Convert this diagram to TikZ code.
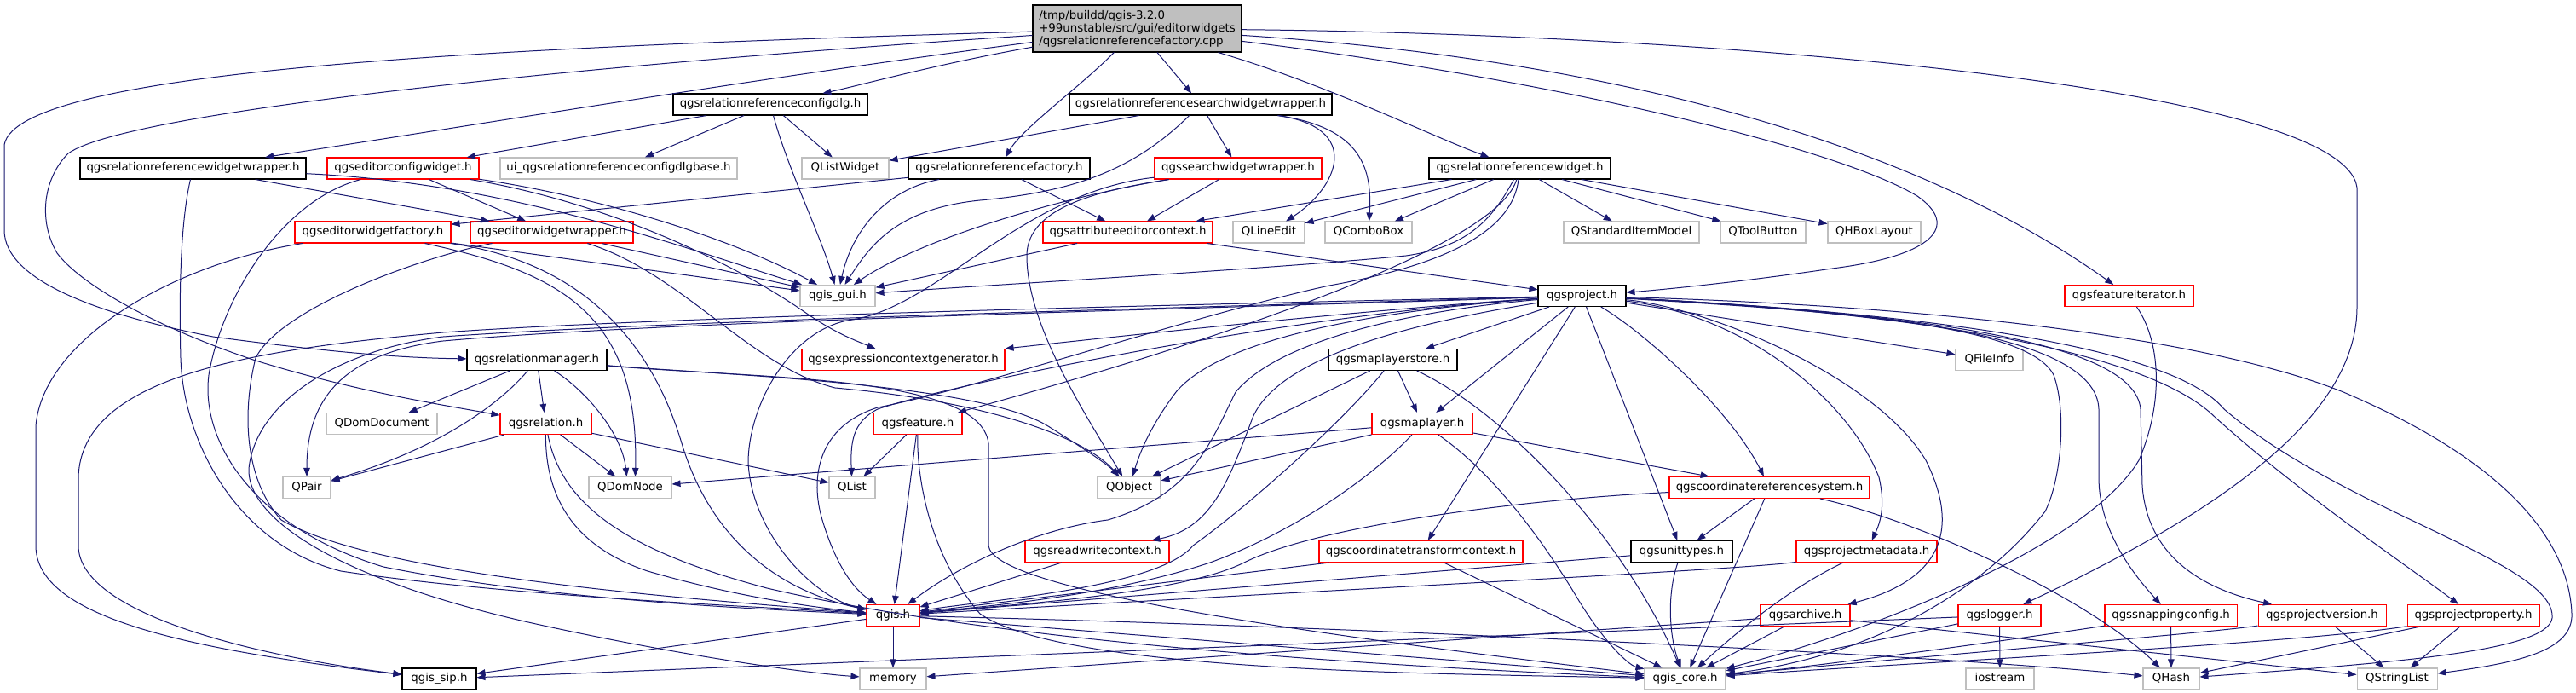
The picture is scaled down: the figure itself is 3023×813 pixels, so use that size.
\documentclass[tikz,border=0pt]{standalone}
\usepackage{fontspec}
\newfontfamily\djv{DejaVu Sans}
\usetikzlibrary{arrows.meta}
\definecolor{navy}{HTML}{191970}
\definecolor{gbord}{HTML}{BFBFBF}
\definecolor{rootfill}{HTML}{BFBFBF}
\begin{document}
\begin{tikzpicture}[x=0.75pt,y=-0.75pt,
  nb/.style={rectangle, draw, line width=0.8pt, inner sep=0pt, minimum height=18.75pt,
             font=\djv\fontsize{10pt}{11.25pt}\selectfont, text height=7.4pt, text depth=2.3pt, fill=white},
  blk/.style={nb, draw=black},
  rdn/.style={nb, draw=red},
  gry/.style={nb, draw=gbord},
  wd/.style={minimum width=#1*0.75pt},
  e/.style={draw=navy, line width=0.75pt, -{Triangle[length=7.5pt,width=5.6pt]}}]
\fill[white] (0,0) rectangle (3023,813);
\useasboundingbox (0,0) rectangle (3023,813);

% ---------------- nodes ----------------
\node[rectangle, draw=black, line width=0.8pt, fill=rootfill, inner sep=0pt, minimum width=245*0.75pt,
      minimum height=55*0.75pt, align=left, font=\djv\fontsize{10pt}{11.25pt}\selectfont] (root) at (1334.5,33.5)
      {/tmp/buildd/qgis-3.2.0\\+99unstable/src/gui/editorwidgets\\/qgsrelationreferencefactory.cpp};

\node[blk, wd=228] (cfgdlg) at (904,122.5) {qgsrelationreferenceconfigdlg.h};
\node[blk, wd=308] (srchwrap) at (1409,122.5) {qgsrelationreferencesearchwidgetwrapper.h};

\node[blk, wd=265] (rrww) at (226.5,197.5) {qgsrelationreferencewidgetwrapper.h};
\node[rdn, wd=178] (ecw) at (473,197.5) {qgseditorconfigwidget.h};
\node[gry, wd=278] (uibase) at (726,197.5) {ui\_qgsrelationreferenceconfigdlgbase.h};
\node[gry, wd=102] (qlistwidget) at (992,197.5) {QListWidget};
\node[blk, wd=213] (rrfac) at (1172.5,197.5) {qgsrelationreferencefactory.h};
\node[rdn, wd=196] (sww) at (1453,197.5) {qgssearchwidgetwrapper.h};
\node[blk, wd=213] (rrw) at (1783.5,197.5) {qgsrelationreferencewidget.h};

\node[rdn, wd=183] (ewf) at (437.5,272.5) {qgseditorwidgetfactory.h};
\node[rdn, wd=191] (eww) at (647.5,272.5) {qgseditorwidgetwrapper.h};
\node[rdn, wd=199] (aec) at (1323.5,272.5) {qgsattributeeditorcontext.h};
\node[gry, wd=84] (qlineedit) at (1489,272.5) {QLineEdit};
\node[gry, wd=102] (qcombobox) at (1606,272.5) {QComboBox};
\node[gry, wd=159] (qsim) at (1914.5,272.5) {QStandardItemModel};
\node[gry, wd=100] (qtoolbutton) at (2069,272.5) {QToolButton};
\node[gry, wd=109] (qhbox) at (2199.5,272.5) {QHBoxLayout};

\node[gry, wd=88] (gui) at (983,347) {qgis\_gui.h};
\node[blk, wd=103] (proj) at (1856.5,347) {qgsproject.h};
\node[rdn, wd=151] (fiter) at (2498.5,347) {qgsfeatureiterator.h};

\node[blk, wd=164] (relman) at (630,422) {qgsrelationmanager.h};
\node[rdn, wd=238] (ecg) at (1060,422) {qgsexpressioncontextgenerator.h};
\node[blk, wd=151] (mlstore) at (1634.5,422) {qgsmaplayerstore.h};
\node[gry, wd=79] (qfileinfo) at (2334.5,422) {QFileInfo};

\node[gry, wd=130] (qdomdoc) at (448,497) {QDomDocument};
\node[rdn, wd=107] (relation) at (640.5,497) {qgsrelation.h};
\node[rdn, wd=104] (feature) at (1077,497) {qgsfeature.h};
\node[rdn, wd=118] (maplayer) at (1669,497) {qgsmaplayer.h};

\node[gry, wd=56] (qpair) at (360,572) {QPair};
\node[gry, wd=97] (qdomnode) at (739.5,572) {QDomNode};
\node[gry, wd=54] (qlist) at (1000,572) {QList};
\node[gry, wd=74] (qobject) at (1325,572) {QObject};
\node[rdn, wd=235] (crs) at (2076.5,572) {qgscoordinatereferencesystem.h};

\node[rdn, wd=169] (rwctx) at (1287.5,647) {qgsreadwritecontext.h};
\node[rdn, wd=239] (ctctx) at (1667.5,647) {qgscoordinatetransformcontext.h};
\node[blk, wd=119] (unittypes) at (1973.5,647) {qgsunittypes.h};
\node[rdn, wd=165] (projmeta) at (2190.5,647) {qgsprojectmetadata.h};

\node[rdn, wd=62] (qgis) at (1048,722) {qgis.h};
\node[rdn, wd=105] (archive) at (2118.5,722) {qgsarchive.h};
\node[rdn, wd=97] (logger) at (2346.5,722) {qgslogger.h};
\node[rdn, wd=155] (snapcfg) at (2547.5,722) {qgssnappingconfig.h};
\node[rdn, wd=150] (projver) at (2725,722) {qgsprojectversion.h};
\node[rdn, wd=155] (projprop) at (2902.5,722) {qgsprojectproperty.h};

\node[blk, wd=87] (sip) at (515.5,796.5) {qgis\_sip.h};
\node[gry, wd=78] (memory) at (1048,796.5) {memory};
\node[gry, wd=95] (core) at (1977.5,796.5) {qgis\_core.h};
\node[gry, wd=80] (iostream) at (2347,796.5) {iostream};
\node[gry, wd=66] (qhash) at (2548,796.5) {QHash};
\node[gry, wd=94] (qstringlist) at (2813,796.5) {QStringList};

% ---------------- edges ----------------
% root
\draw[e] (root) .. controls (1100,75) and (1010,100) .. (cfgdlg);
\draw[e] (root) .. controls (900,90) and (600,140) .. (rrww);
\draw[e] (root) .. controls (600,55) and (20,80) .. (5,170) -- (5,270) .. controls (5,330) and (120,370) .. (250,395) .. controls (400,415) and (480,420) .. (relman);
\draw[e] (root) .. controls (700,75) and (150,130) .. (80,180) .. controls (50,210) and (45,260) .. (67,297) .. controls (100,340) and (200,390) .. (300,423) .. controls (420,460) and (520,475) .. (relation);
\draw[e] (root) .. controls (1270,100) and (1200,150) .. (rrfac);
\draw[e] (root) -- (srchwrap);
\draw[e] (root) .. controls (1560,100) and (1680,160) .. (rrw);
\draw[e] (root) .. controls (1800,90) and (2150,170) .. (2250,230) .. controls (2300,265) and (2270,300) .. (2150,315) .. controls (2050,330) and (1950,340) .. (proj);
\draw[e] (root) .. controls (1900,70) and (2250,170) .. (fiter);
\draw[e] (root) .. controls (2000,40) and (2750,100) .. (2766,220) -- (2766,360) .. controls (2766,470) and (2650,580) .. (logger);

% cfgdlg
\draw[e] (cfgdlg) -- (ecw);
\draw[e] (cfgdlg) -- (uibase);
\draw[e] (cfgdlg) -- (qlistwidget);
\draw[e] (cfgdlg) .. controls (925,200) and (965,280) .. (gui);

% srchwrap
\draw[e] (srchwrap) -- (qlistwidget);
\draw[e] (srchwrap) .. controls (1330,200) and (1260,225) .. (1150,235) .. controls (1050,245) and (1020,290) .. (gui);
\draw[e] (srchwrap) -- (sww);
\draw[e] (srchwrap) .. controls (1600,150) and (1570,220) .. (qlineedit);
\draw[e] (srchwrap) .. controls (1600,150) and (1610,200) .. (qcombobox);

% rrww
\draw[e] (rrww) -- (eww);
\draw[e] (rrww) .. controls (600,215) and (800,290) .. (gui);
\draw[e] (rrww) .. controls (212,260) and (210,340) .. (212,420) .. controls (215,520) and (280,640) .. (400,670) .. controls (600,700) and (900,712) .. (qgis);

% ecw
\draw[e] (ecw) -- (eww);
\draw[e] (ecw) .. controls (700,230) and (860,280) .. (gui);
\draw[e] (ecw) .. controls (700,235) and (850,300) .. (950,370) .. controls (980,390) and (1000,398) .. (ecg);
\draw[e] (ecw) .. controls (330,235) and (260,350) .. (245,440) .. controls (235,520) and (300,620) .. (450,665) .. controls (650,705) and (900,715) .. (qgis);

% rrfac
\draw[e] (rrfac) -- (ewf);
\draw[e] (rrfac) .. controls (1040,222) and (1000,270) .. (gui);
\draw[e] (rrfac) -- (aec);

% sww
\draw[e] (sww) -- (aec);
\draw[e] (sww) .. controls (1250,230) and (1080,280) .. (gui);
\draw[e] (sww) .. controls (1200,225) and (1100,360) .. (1000,375) .. controls (930,385) and (880,470) .. (878,540) .. controls (880,620) and (950,700) .. (qgis);
\draw[e] (sww) .. controls (1300,222) and (1205,240) .. (1205,300) .. controls (1205,380) and (1270,480) .. (qobject);

% rrw
\draw[e] (rrw) -- (aec);
\draw[e] (rrw) -- (qlineedit);
\draw[e] (rrw) -- (qcombobox);
\draw[e] (rrw) .. controls (1750,260) and (1720,290) .. (1650,300) .. controls (1500,315) and (1150,335) .. (gui);
\draw[e] (rrw) .. controls (1760,280) and (1500,380) .. (feature);
\draw[e] (rrw) .. controls (1775,270) and (1700,310) .. (1560,335) .. controls (1400,370) and (1150,455) .. (1030,478) .. controls (960,500) and (950,560) .. (965,610) .. controls (980,660) and (1000,690) .. (qgis);
\draw[e] (rrw) -- (qsim);
\draw[e] (rrw) -- (qtoolbutton);
\draw[e] (rrw) -- (qhbox);

% ewf
\draw[e] (ewf) -- (gui);
\draw[e] (ewf) .. controls (660,320) and (750,370) .. ([xshift=4.5pt]qdomnode.north);
\draw[e] (ewf) .. controls (700,310) and (770,420) .. (800,520) .. controls (830,620) and (900,690) .. (qgis);
\draw[e] (ewf) .. controls (200,310) and (50,400) .. (42,500) -- (42,640) .. controls (42,720) and (200,760) .. (sip);

% eww
\draw[e] (eww) -- (gui);
\draw[e] (eww) .. controls (500,300) and (330,360) .. (300,420) .. controls (285,480) and (285,560) .. (330,610) .. controls (450,680) and (850,705) .. (qgis);
\draw[e] (eww) .. controls (800,320) and (880,430) .. (980,455) .. controls (1150,470) and (1270,510) .. (qobject);

% aec
\draw[e] (aec) -- (gui);
\draw[e] (aec) -- (proj);

% fiter
\draw[e] (fiter) .. controls (2535,400) and (2540,470) .. (2510,540) .. controls (2450,640) and (2200,740) .. (core);

% proj
\draw[e] (proj) .. controls (1650,360) and (1400,385) .. (ecg);
\draw[e] (proj) -- (mlstore);
\draw[e] (proj) -- (maplayer);
\draw[e] (proj) -- (qfileinfo);
\draw[e] (proj) -- (ctctx);
\draw[e] (proj) -- (unittypes);
\draw[e] (proj) .. controls (1930,390) and (2030,480) .. (crs);
\draw[e] (proj) .. controls (2150,365) and (2380,380) .. (2410,440) .. controls (2425,480) and (2420,560) .. (2400,600) .. controls (2330,690) and (2200,770) .. (core);
\draw[e] (proj) .. controls (2200,365) and (2460,390) .. (2463,480) -- (2463,560) .. controls (2463,620) and (2500,670) .. (snapcfg);
\draw[e] (proj) .. controls (2250,368) and (2505,400) .. (2512,480) -- (2514,570) .. controls (2520,650) and (2580,690) .. (projver);
\draw[e] (proj) .. controls (2300,370) and (2530,420) .. (2600,490) .. controls (2700,580) and (2820,660) .. (projprop);
\draw[e] (proj) .. controls (2350,372) and (2560,420) .. (2610,480) .. controls (2750,600) and (3000,660) .. (2995,725) .. controls (2990,765) and (2800,778) .. (qhash);
\draw[e] (proj) .. controls (2300,360) and (2600,400) .. (2750,460) .. controls (2950,545) and (3015,640) .. (3018,720) .. controls (3020,765) and (2950,778) .. (qstringlist);
\draw[e] (proj) .. controls (2000,360) and (2200,440) .. (2260,540) .. controls (2300,620) and (2280,680) .. (archive);
\draw[e] (proj) .. controls (2050,370) and (2170,470) .. (2205,560) .. controls (2212,590) and (2208,610) .. (projmeta);
\draw[e] (proj) .. controls (1650,380) and (1500,420) .. (1470,490) .. controls (1440,570) and (1420,620) .. (rwctx);
\draw[e] (proj) .. controls (1650,365) and (1500,400) .. (1450,460) .. controls (1420,520) and (1400,580) .. (1300,610) .. controls (1220,620) and (1130,660) .. (qgis);
\draw[e] (proj) .. controls (1600,365) and (1430,400) .. (1380,460) .. controls (1350,500) and (1338,530) .. (qobject);
\draw[e] (proj) .. controls (1500,370) and (1100,455) .. (1030,480) .. controls (1000,495) and (998,520) .. (qlist);
\draw[e] (proj) .. controls (1500,360) and (800,375) .. (520,400) .. controls (400,415) and (360,470) .. (qpair);
\draw[e] (proj) .. controls (1500,355) and (800,370) .. (520,390) .. controls (300,410) and (95,440) .. (92,560) -- (92,640) .. controls (92,720) and (300,770) .. (sip);
\draw[e] (proj) .. controls (1500,358) and (800,375) .. (520,395) .. controls (400,410) and (300,470) .. (292,550) .. controls (290,610) and (400,680) .. (620,730) .. controls (800,770) and (950,790) .. (memory);

% mlstore
\draw[e] (mlstore) -- (maplayer);
\draw[e] (mlstore) -- (qobject);
\draw[e] (mlstore) .. controls (1580,490) and (1470,590) .. (1400,640) .. controls (1360,690) and (1150,705) .. (qgis);
\draw[e] (mlstore) .. controls (1760,480) and (1900,620) .. (core);

% maplayer
\draw[e] (maplayer) -- (qdomnode);
\draw[e] (maplayer) -- (qobject);
\draw[e] (maplayer) -- (crs);
\draw[e] (maplayer) .. controls (1620,550) and (1530,620) .. (1420,660) .. controls (1300,700) and (1150,712) .. (qgis);
\draw[e] (maplayer) .. controls (1760,560) and (1820,650) .. (1850,700) .. controls (1880,750) and (1910,780) .. (core);

% relman
\draw[e] (relman) -- (qdomdoc);
\draw[e] (relman) .. controls (590,470) and (520,525) .. (qpair);
\draw[e] (relman) -- (relation);
\draw[e] (relman) .. controls (690,460) and (730,510) .. ([xshift=-3pt]qdomnode.north);
\draw[e] (relman) .. controls (850,440) and (1150,450) .. (1230,500) .. controls (1270,525) and (1300,545) .. (qobject);
\draw[e] (relman) .. controls (900,445) and (1150,440) .. (1160,520) -- (1160,640) .. controls (1165,690) and (1500,740) .. (core);

% relation
\draw[e] (relation) -- (qpair);
\draw[e] (relation) -- (qdomnode);
\draw[e] (relation) -- (qlist);
\draw[e] (relation) .. controls (640,580) and (670,640) .. (760,670) .. controls (880,705) and (980,715) .. (qgis);
\draw[e] (relation) .. controls (660,600) and (750,650) .. (900,690) .. controls (1200,760) and (1700,785) .. (core);

% feature
\draw[e] (feature) -- (qlist);
\draw[e] (feature) -- (qgis);
\draw[e] (feature) .. controls (1076,560) and (1090,650) .. (1150,720) .. controls (1250,790) and (1700,790) .. (core);

% lower rows
\draw[e] (rwctx) -- (qgis);
\draw[e] (ctctx) -- (qgis);
\draw[e] (ctctx) -- (core);
\draw[e] (unittypes) -- (qgis);
\draw[e] (unittypes) .. controls (1955,700) and (1960,750) .. (core);
\draw[e] (crs) -- (unittypes);
\draw[e] (crs) -- (core);
\draw[e] (crs) .. controls (2250,610) and (2450,700) .. (qhash);
\draw[e] (crs) .. controls (1800,585) and (1550,615) .. (1460,660) .. controls (1380,700) and (1150,712) .. (qgis);
\draw[e] (projmeta) .. controls (2050,668) and (1600,690) .. (qgis);
\draw[e] (projmeta) .. controls (2100,690) and (2040,740) .. (core);
\draw[e] (archive) -- (memory);
\draw[e] (archive) -- (core);
\draw[e] (archive) -- (qstringlist);
\draw[e] (logger) -- (sip);
\draw[e] (logger) -- (core);
\draw[e] (logger) -- (iostream);
\draw[e] (snapcfg) -- (qhash);
\draw[e] (snapcfg) .. controls (2400,745) and (2150,780) .. (core);
\draw[e] (projver) .. controls (2600,742) and (2200,775) .. (core);
\draw[e] (projver) -- (qstringlist);
\draw[e] (projprop) .. controls (2700,755) and (2200,780) .. (core);
\draw[e] (projprop) -- (qhash);
\draw[e] (projprop) -- (qstringlist);
\draw[e] (qgis) -- (memory);
\draw[e] (qgis) -- (sip);
\draw[e] (qgis) -- (core);
\draw[e] (qgis) .. controls (1600,735) and (2300,770) .. (qhash);
\end{tikzpicture}
\end{document}
